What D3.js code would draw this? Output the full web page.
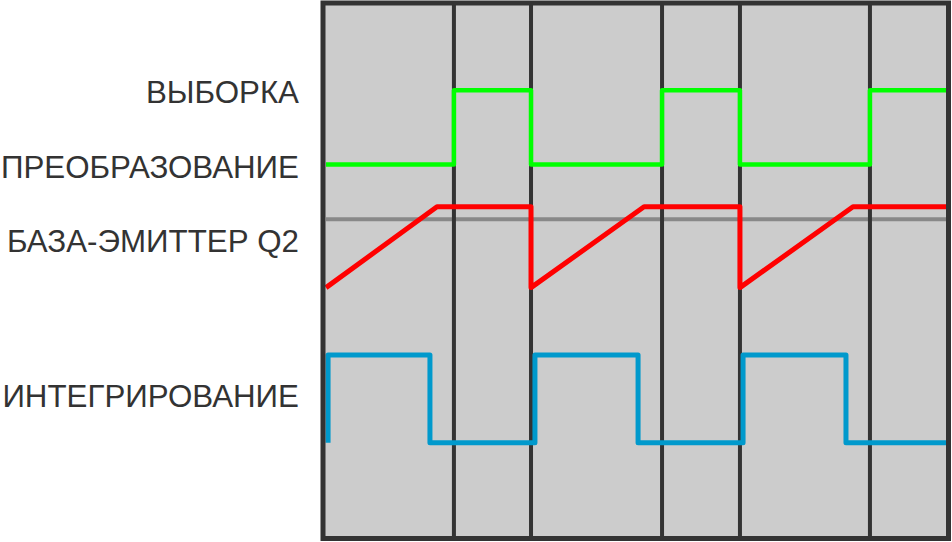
<!DOCTYPE html>
<html>
<head>
<meta charset="utf-8">
<script src="https://cdn.jsdelivr.net/npm/d3@7/dist/d3.min.js"></script>
<style>
  html, body { margin: 0; padding: 0; background: #ffffff; }
  svg { display: block; }
</style>
</head>
<body>
<svg id="chart" width="952" height="542"></svg>
<script>
// ---- data (time units / level units) ----
const labels = ["ВЫБОРКА", "ПРЕОБРАЗОВАНИЕ", "БАЗА-ЭМИТТЕР Q2", "ИНТЕГРИРОВАНИЕ"];
const labelLevels = [81.3, 67.3, 53.5, 24.5];

const gridTimes = [6.19, 9.92, 16.26, 20.03, 26.32];
const refLevel = 59.6;

// sample/convert signal (green)
const sampleT = [0, 6.19, 6.19, 9.92, 9.92, 16.26, 16.26, 20.03, 20.03, 26.32, 26.32, 30];
const sampleV = [69.8, 69.8, 83.7, 83.7, 69.8, 69.8, 83.7, 83.7, 69.8, 69.8, 83.7, 83.7];

// base-emitter Q2 (red)
const baseT = [0, 5.37, 9.92, 9.92, 15.39, 20.03, 20.03, 25.5, 30];
const baseV = [46.8, 61.9, 61.9, 46.8, 61.9, 61.9, 46.8, 61.9, 61.9];

// integration (blue)
const integT = [0.1, 0.1, 5.03, 5.03, 10.11, 10.11, 15.1, 15.1, 20.18, 20.18, 25.16, 25.16, 30];
const integV = [17.8, 34.2, 34.2, 17.8, 17.8, 34.2, 34.2, 17.8, 17.8, 34.2, 34.2, 17.8, 17.8];

// ---- layout ----
const svg = d3.select("#chart");
const x = d3.scaleLinear().domain([0, 30]).range([326, 946]);
const y = d3.scaleLinear().domain([0, 100]).range([538, 3]);

// panel background
svg.append("rect")
  .attr("x", 323).attr("y", 3)
  .attr("width", 625.5).attr("height", 535.5)
  .attr("fill", "#cccccc");

// reference horizontal line
svg.append("line")
  .attr("x1", x(0)).attr("x2", x(30))
  .attr("y1", y(refLevel)).attr("y2", y(refLevel))
  .attr("stroke", "#888888").attr("stroke-width", 4);

// vertical grid lines
svg.append("g").selectAll("line").data(gridTimes).join("line")
  .attr("x1", d => x(d)).attr("x2", d => x(d))
  .attr("y1", y(100)).attr("y2", y(0))
  .attr("stroke", "#333333").attr("stroke-width", 4);

const line = d3.line().x(d => x(d[0])).y(d => y(d[1]));
function series(T, V) { return T.map((t, i) => [t, V[i]]); }

svg.append("path").datum(series(sampleT, sampleV))
  .attr("d", line).attr("fill", "none")
  .attr("stroke", "#00ff00").attr("stroke-width", 4.5)
  .attr("stroke-linejoin", "round");

svg.append("path").datum(series(baseT, baseV))
  .attr("d", line).attr("fill", "none")
  .attr("stroke", "#ff0000").attr("stroke-width", 5)
  .attr("stroke-linejoin", "round");

svg.append("path").datum(series(integT, integV))
  .attr("d", line).attr("fill", "none")
  .attr("stroke", "#0099cc").attr("stroke-width", 5)
  .attr("stroke-linejoin", "round");

// panel border
svg.append("rect")
  .attr("x", 323).attr("y", 3)
  .attr("width", 625.5).attr("height", 535.5)
  .attr("fill", "none")
  .attr("stroke", "#333333").attr("stroke-width", 5);

// labels
svg.append("g").selectAll("text").data(labels).join("text")
  .attr("x", 299)
  .attr("y", (d, i) => y(labelLevels[i]))
  .attr("text-anchor", "end")
  .attr("font-family", "'Liberation Sans', Arial, sans-serif")
  .attr("font-size", 31.3)
  .attr("fill", "#333333")
  .text(d => d);
</script>
</body>
</html>
